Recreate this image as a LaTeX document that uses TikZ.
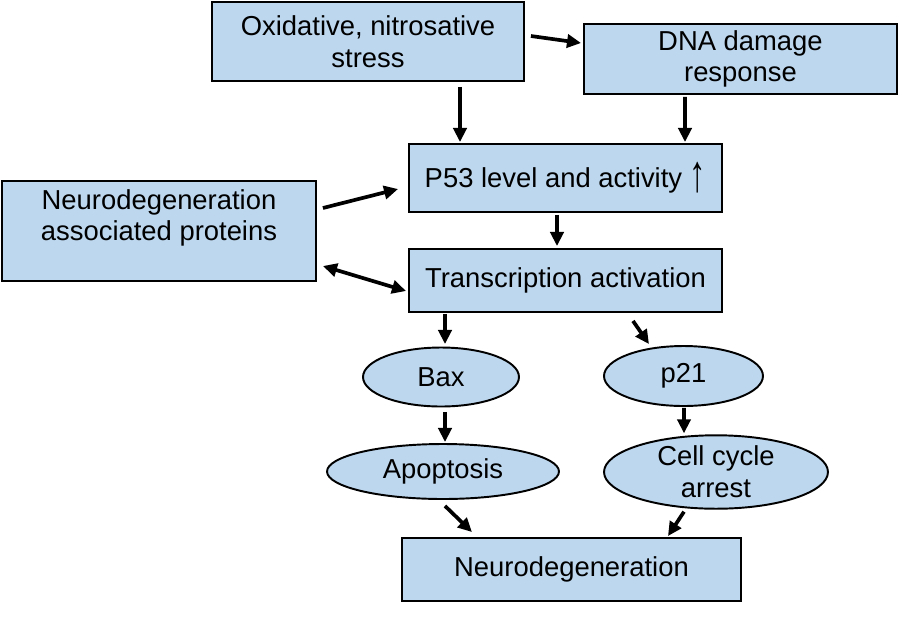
\documentclass[tikz,border=0pt]{standalone}
\usepackage{fontspec}
\setmainfont{Liberation Sans}
\usepackage{graphicx}
\usepackage{tikz}
\usetikzlibrary{arrows.meta,calc,shapes.geometric}
\definecolor{boxblue}{RGB}{189,215,238}
\newcommand{\uparr}{\raisebox{-0.25ex}{\scalebox{1.2}[1.9]{\bfseries ↑}}}

\begin{document}
\begin{tikzpicture}[x=0.02cm, y=-0.02cm,
  font=\fontsize{15.6}{18.1}\selectfont,
  box/.style={draw=black, line width=1.1pt, fill=boxblue, align=center, inner sep=0pt},
  oval/.style={ellipse, draw=black, line width=1.1pt, fill=boxblue, align=center, inner sep=0pt},
  arr/.style={-{Triangle[length=8pt,width=7.5pt]}, line width=2.1pt},
  dblarr/.style={{Triangle[length=8pt,width=7.5pt]}-{Triangle[length=8pt,width=7.5pt]}, line width=2.1pt}]
  \useasboundingbox (0,0) rectangle (900,620);
  % boxes
  \node[box, minimum width=6.24cm, minimum height=1.58cm] (ox) at (368,41.5) {Oxidative, nitrosative\\stress};
  \node[box, minimum width=6.26cm, minimum height=1.4cm] (dna) at (740.5,59) {DNA damage\\response};
  \node[box, minimum width=6.26cm, minimum height=1.36cm] (p53) at (565.5,178) {P53 level and activity \uparr};
  \node[box, minimum width=6.28cm, minimum height=2.0cm] (nap) at (159,231) {Neurodegeneration\\associated proteins\\~};
  \node[box, minimum width=6.26cm, minimum height=1.26cm] (tr) at (565.5,280.5) {Transcription activation};
  % ellipses
  \node[oval, minimum width=3.12cm, minimum height=1.18cm] (bax) at (441,377) {Bax};
  \node[oval, minimum width=3.18cm, minimum height=1.2cm] (p21) at (683.5,376) {p21};
  \node[oval, minimum width=4.64cm, minimum height=1.1cm] (apo) at (443,471.5) {Apoptosis};
  \node[oval, minimum width=4.48cm, minimum height=1.28cm] (cca) at (716,472) {Cell cycle\\arrest};
  \node[box, minimum width=6.78cm, minimum height=1.26cm] (neu) at (571.5,569.5) {Neurodegeneration};
  % arrows
  \draw[arr] ($(ox.east)+(6,-5.5)$) -- ($(dna.west)+(-2,-16)$);
  \draw[arr] ($(ox.south)+(92,5)$) -- ($(p53.north)+(-105.5,-1)$);
  \draw[arr] ($(dna.south)+(-55.5,2)$) -- ($(p53.north)+(119.5,-1)$);
  \draw[arr] ($(nap.east)+(6,-23)$) -- ($(p53.west)+(-10,11)$);
  \draw[dblarr] ($(nap.east)+(6,35)$) -- ($(tr.west)+(-2,10.5)$);
  \draw[arr] ($(p53.south)+(-8.5,2)$) -- ($(tr.north)+(-8.5,-2)$);
  \draw[arr] ($(tr.south)+(-120.5,1)$) -- ($(bax.north)+(4,-2.5)$);
  \draw[arr] ($(tr.south)+(67.5,8)$) -- ($(p21.north)+(-34.5,-1)$);
  \draw[arr] ($(bax.south)+(4,4.5)$) -- ($(apo.north)+(2,-1)$);
  \draw[arr] ($(p21.south)+(0.5,1)$) -- ($(cca.north)+(-32,-1)$);
  \draw[arr] ($(apo.south)+(2,6)$) -- ($(neu.north)+(-99.5,-5)$);
  \draw[arr] ($(cca.south)+(-32,2)$) -- ($(neu.north)+(96.5,-1)$);
\end{tikzpicture}
\end{document}
